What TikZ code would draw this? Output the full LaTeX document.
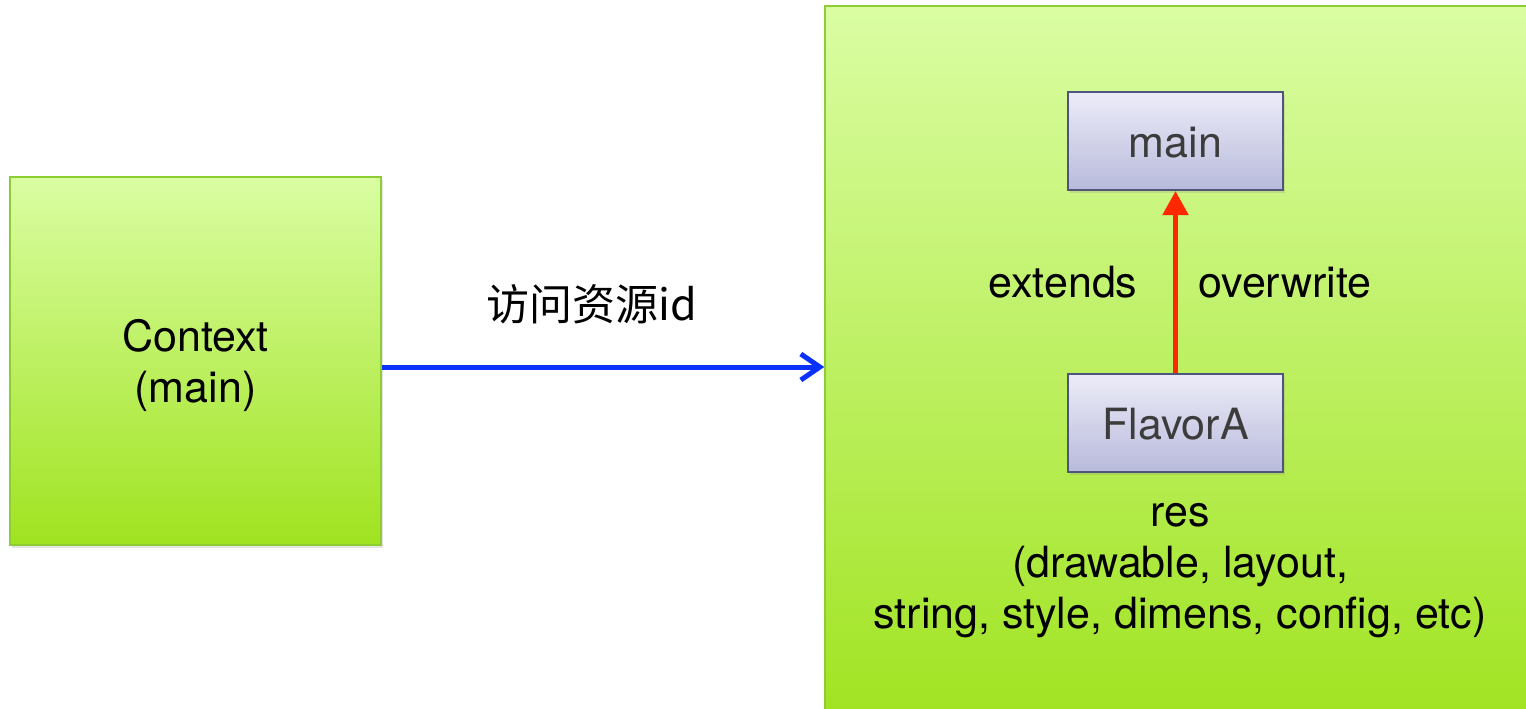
\documentclass[tikz,border=0pt]{standalone}
\usepackage{fontspec}
\setmainfont{TeX Gyre Heros}
\newfontfamily\cjk{Noto Sans CJK SC}
\usetikzlibrary{arrows.meta,shadows}
\definecolor{greentop}{RGB}{218,253,163}
\definecolor{greenbot}{RGB}{160,227,32}
\definecolor{greenline}{RGB}{140,205,50}
\definecolor{lavtop}{RGB}{236,236,248}
\definecolor{lavbot}{RGB}{184,186,219}
\definecolor{lavline}{RGB}{80,85,125}
\definecolor{arrowblue}{RGB}{10,50,255}
\definecolor{arrowred}{RGB}{255,40,0}
\definecolor{labelgrey}{RGB}{60,60,60}
\begin{document}
\begin{tikzpicture}
	[
		x=1pt,
		y=-1pt,
		font=\fontsize{43}{51}\selectfont,
		greenbox/.style={draw=greenline, line width=1.5pt, top color=greentop, bottom color=greenbot,
			drop shadow={opacity=0.2, shadow xshift=2pt, shadow yshift=-3pt}},
		flavorbox/.style={draw=lavline, line width=2pt, top color=lavtop, bottom color=lavbot,
			minimum width=215pt, minimum height=98pt, text=labelgrey, text height=33pt, text depth=0pt,
			drop shadow={opacity=0.2, shadow xshift=2pt, shadow yshift=-3pt}},
		bluearrow/.style={-{Straight Barb[length=19pt,width=26pt]}, line width=5pt, color=arrowblue},
		redarrow/.style={-{Triangle[length=24pt,width=25pt]}, line width=5pt, color=arrowred}
	]
		\clip (0,0) rectangle (1526,709);
		\fill[white] (0,0) rectangle (1526,709);
		% the two big boxes
		\node[greenbox, minimum width=371pt, minimum height=368pt] (context) at (195.5,361) {};
		\node[align=center] (contextlabel) at ([yshift=-4pt]context.center) {Context\\(main)};
		\node[greenbox, minimum width=722pt, minimum height=722pt] (res) at (1186,367) {};
		% flavor boxes
		\node[flavorbox] (mainres) at (1175.5,141) {main};
		\node[flavorbox] (flavora) at (1175.5,423) {FlavorA};
		\draw [redarrow] (flavora) -- (mainres);
		\draw [bluearrow] (context.east |- res.west) -- (res.west);
		% labels
		\node[anchor=base] (access) at (592,320) {\cjk 访问资源id};
		\node[anchor=base] (extends) at (1063,297) {extends};
		\node[anchor=base] (overwrite) at (1285,297) {overwrite};
		\node[align=center] (reslist) at (1180,571) {res\\(drawable, layout,\\string, style, dimens, config, etc)};
	\end{tikzpicture}
\end{document}
